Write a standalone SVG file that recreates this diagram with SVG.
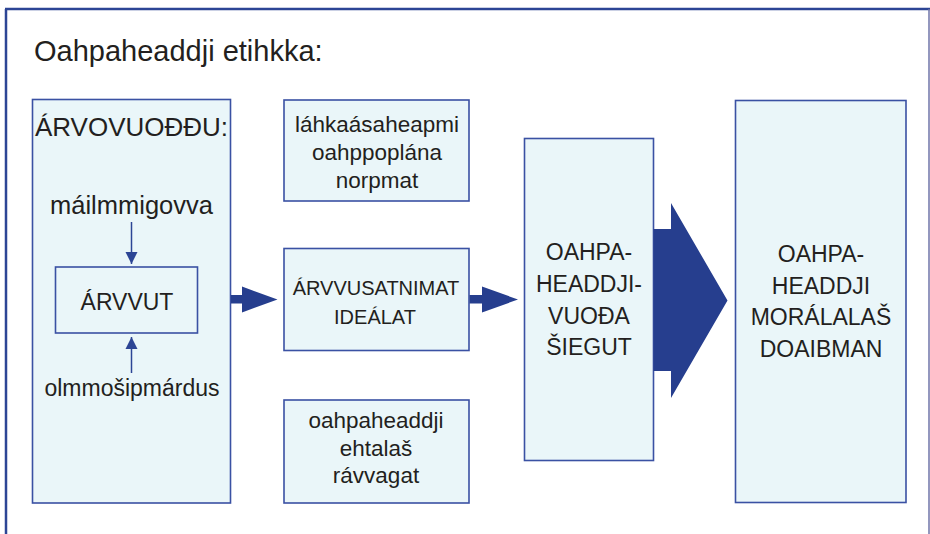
<svg xmlns="http://www.w3.org/2000/svg" width="930" height="534" viewBox="0 0 930 534">
<style>
  .box { fill: #eaf6f9; stroke: #3a51a3; stroke-width: 1.6; }
  .t { font-family: "Liberation Sans", Arial, sans-serif; fill: #231f20; text-anchor: middle; }
  .lc { font-size: 22.5px; }
  .cap { font-size: 23px; }
  .big { fill: #263e8e; }
  .thin { stroke: #2c4595; stroke-width: 1.5; fill: none; }
</style>
<defs>
  <marker id="ah" viewBox="0 0 12 18" refX="12" refY="9" markerWidth="12" markerHeight="18" markerUnits="userSpaceOnUse" orient="auto">
    <path d="M0,3 L12,9 L0,15 Z" fill="#2c4595"/>
  </marker>
</defs>
<rect width="930" height="534" fill="#ffffff"/>
<g id="frame">
  <line x1="6" y1="9" x2="6" y2="534" stroke="#2c4595" stroke-width="2.5"/>
  <line x1="5" y1="9" x2="930" y2="9" stroke="#2c4595" stroke-width="2.5"/>
  <line x1="929" y1="9" x2="929" y2="534" stroke="#6f74a8" stroke-width="1.5"/>
  <text x="34" y="61" style="font-family:'Liberation Sans',Arial,sans-serif;font-size:29px;fill:#231f20">Oahpaheaddji etihkka:</text>
</g>
<g id="arvovuoddu">
  <rect class="box" x="32.5" y="99.5" width="198" height="403.5"/>
  <text class="t" x="131.5" y="136" style="font-size:26px">ÁRVOVUOĐĐU:</text>
  <text class="t" x="131.5" y="214" style="font-size:25.5px">máilmmigovva</text>
  <text class="t" x="132" y="396" style="font-size:23px">olmmošipmárdus</text>
</g>
<g id="arvvut">
  <rect class="box" x="55.5" y="267" width="142" height="66"/>
  <text class="t cap" x="127" y="310">ÁRVVUT</text>
</g>
<g id="lahkaasaheapmi">
  <rect class="box" x="284" y="100" width="185" height="101"/>
  <text class="t lc" x="377" y="132">láhkaásaheapmi</text>
  <text class="t lc" x="377" y="160">oahppoplána</text>
  <text class="t lc" x="377" y="188">norpmat</text>
</g>
<g id="arvvusatnimat">
  <rect class="box" x="284" y="248.5" width="185" height="102"/>
  <text class="t" x="376" y="295" style="font-size:20px">ÁRVVUSATNIMAT</text>
  <text class="t" x="375" y="324" style="font-size:20px">IDEÁLAT</text>
</g>
<g id="ehtalas">
  <rect class="box" x="284" y="400" width="185" height="103"/>
  <text class="t lc" x="376" y="428">oahpaheaddji</text>
  <text class="t lc" x="376" y="455.5">ehtalaš</text>
  <text class="t lc" x="376" y="483">rávvagat</text>
</g>
<g id="vuoda">
  <rect class="box" x="524.5" y="138.5" width="129" height="322"/>
  <text class="t cap" x="589" y="260">OAHPA-</text>
  <text class="t cap" x="589" y="292">HEADDJI-</text>
  <text class="t cap" x="589" y="323.5">VUOĐA</text>
  <text class="t cap" x="589" y="355">ŠIEGUT</text>
</g>
<g id="doaibman">
  <rect class="box" x="735.5" y="100.5" width="170.5" height="402"/>
  <text class="t cap" x="821" y="262">OAHPA-</text>
  <text class="t cap" x="821" y="293.5">HEADDJI</text>
  <text class="t cap" x="821" y="325">MORÁLALAŠ</text>
  <text class="t cap" x="821" y="357">DOAIBMAN</text>
</g>
<g id="connectors">
  <line class="thin" x1="131.5" y1="222" x2="131.5" y2="264" marker-end="url(#ah)"/>
  <line class="thin" x1="131.5" y1="373" x2="131.5" y2="337" marker-end="url(#ah)"/>
  <path class="big" d="M231,295 L242,295 L242,286.5 L277.5,299.5 L242,312.5 L242,303.5 L231,303.5 Z"/>
  <path class="big" d="M469.5,295 L482,295 L482,286.5 L518,299.5 L482,312.5 L482,303.5 L469.5,303.5 Z"/>
  <path class="big" d="M653.5,229 L671,229 L671,203 L727.5,300.5 L671,398 L671,371 L653.5,371 Z"/>
</g>
</svg>
